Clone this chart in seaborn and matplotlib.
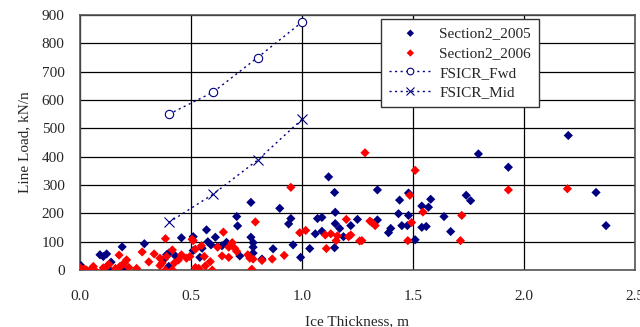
import numpy as np
import pandas as pd
import matplotlib
matplotlib.use("Agg")
import matplotlib.pyplot as plt
import seaborn as sns

# Section2_2005 (blu)
x_2005 = [0.004, 0.09, 0.105, 0.12, 0.135, 0.14, 0.19, 0.2, 0.29, 0.38, 0.39, 0.4, 0.40, 0.43, 0.457,
          0.51, 0.51, 0.54, 0.55, 0.57, 0.576, 0.59, 0.61, 0.62, 0.64, 0.66, 0.706, 0.71, 0.72, 0.77,
          0.77, 0.78, 0.78, 0.78, 0.82, 0.87, 0.90, 0.94, 0.95, 0.96, 0.994, 1.035, 1.06, 1.07, 1.09,
          1.09, 1.12, 1.147, 1.15, 1.15, 1.17, 1.147, 1.187, 1.22, 1.25, 1.34, 1.34, 1.39, 1.40, 1.44,
          1.435, 1.45, 1.475, 1.48, 1.48, 1.51, 1.54, 1.54, 1.56, 1.57, 1.58, 1.64, 1.67, 1.74, 1.76,
          1.795, 1.93, 2.2, 2.325, 2.37]
y_2005 = [16, 54, 48, 57, 0, 28, 82, 5, 93, 39, 54, 60, 13, 50, 114,
          118, 69, 45, 77, 142, 100, 89, 116, 83, 86, 98, 189, 156, 50, 239,
          116, 97, 81, 60, 39, 75, 218, 163, 182, 89, 45, 76, 128, 182, 186,
          137, 329, 274, 204, 164, 147, 79, 118, 157, 179, 283, 177, 132, 147, 247,
          199, 157, 157, 272, 193, 107, 226, 151, 154, 222, 250, 189, 136, 264, 245,
          410, 363, 475, 274, 157]

# Section2_2006 (rosso)
x_2006 = [0.0, 0.01, 0.02, 0.03, 0.05, 0.06, 0.065, 0.105, 0.12, 0.13, 0.16, 0.176, 0.18, 0.19, 0.2,
          0.21, 0.22, 0.255, 0.28, 0.31, 0.334, 0.36, 0.36, 0.37, 0.385, 0.385, 0.39, 0.416, 0.416,
          0.425, 0.444, 0.457, 0.48, 0.495, 0.505, 0.51, 0.52, 0.52, 0.535, 0.547, 0.56, 0.565, 0.587,
          0.596, 0.62, 0.64, 0.646, 0.67, 0.67, 0.686, 0.697, 0.706, 0.756, 0.765, 0.774, 0.78, 0.79,
          0.82, 0.866, 0.92, 0.95, 0.99, 1.017, 1.11, 1.105, 1.13, 1.154, 1.16, 1.2, 1.21, 1.22, 1.26,
          1.27, 1.284, 1.306, 1.315, 1.33, 1.477, 1.486, 1.494, 1.51, 1.545, 1.714, 1.72, 1.93, 2.196]
y_2006 = [9, 1, 3, 0, 3, 13, 1, 8, 13, 20, 6, 53, 13, 18, 25,
          36, 9, 6, 64, 29, 57, 42, 16, 25, 111, 0, 48, 71, 1,
          25, 36, 54, 42, 48, 109, 104, 74, 9, 6, 86, 48, 15, 30,
          0, 81, 50, 134, 45, 81, 97, 77, 66, 54, 42, 3, 39, 170,
          34, 39, 52, 292, 132, 140, 76, 124, 128, 104, 121, 179, 118, 124, 103,
          104, 414, 173, 168, 157, 104, 264, 168, 352, 205, 104, 193, 283, 287]

# curve FSICR
x_fsicr = [0.4, 0.6, 0.8, 1.0]
y_fwd = [550, 628, 750, 875]
y_mid = [168, 268, 388, 532]

sns.set_style("white")
plt.rcParams['font.family'] = ['Liberation Serif', 'DejaVu Serif']

fig = plt.figure(figsize=(6.4, 3.27), dpi=100)
ax = fig.add_axes([0.125, 0.174, 0.867, 0.780])

sns.scatterplot(x=x_2005, y=y_2005, ax=ax, marker='D', s=22, color='#000080',
                edgecolor='none', label='Section2_2005', zorder=3)
sns.scatterplot(x=x_2006, y=y_2006, ax=ax, marker='D', s=22, color='#ff0000',
                edgecolor='none', label='Section2_2006', zorder=3)
sns.lineplot(x=x_fsicr, y=y_fwd, ax=ax, color='#000080', linestyle=(0, (1.5, 2.5)), linewidth=1,
             marker='o', markersize=6, markerfacecolor='white', markeredgecolor='#000080',
             markeredgewidth=0.8, label='FSICR_Fwd', zorder=4)
sns.lineplot(x=x_fsicr, y=y_mid, ax=ax, color='#000080', linestyle=(0, (1.5, 2.5)), linewidth=1,
             marker='x', markersize=7, markeredgecolor='#000080', markeredgewidth=0.8,
             label='FSICR_Mid', zorder=4)

ax.set_xlim(0, 2.5)
ax.set_ylim(0, 900)
ax.set_xticks(np.arange(0, 2.51, 0.5))
ax.set_yticks(np.arange(0, 901, 100))
ax.set_xticklabels(['0.0', '0.5', '1.0', '1.5', '2.0', '2.5'])
ax.grid(True, color='black', linewidth=0.9)
ax.set_axisbelow(True)
for sp in ax.spines.values():
    sp.set_color('#555555')
    sp.set_linewidth(1.2)
ax.tick_params(axis='x', labelsize=11, length=0, pad=14)
ax.tick_params(axis='y', labelsize=11, length=0, pad=11)
ax.set_xlabel('Ice Thickness, m', fontsize=11, labelpad=9)
ax.set_ylabel('Line Load, kN/n', fontsize=11, labelpad=8)

leg = ax.legend(loc='upper left', bbox_to_anchor=(0.543, 0.985), fontsize=11, frameon=True,
                fancybox=False, edgecolor='#333333', framealpha=1, borderpad=0.5,
                handlelength=2.8, handletextpad=0.5, labelspacing=0.4, borderaxespad=0,
                markerscale=0.8)
leg.get_frame().set_linewidth(1.0)

fig.savefig('out.png', dpi=100)
